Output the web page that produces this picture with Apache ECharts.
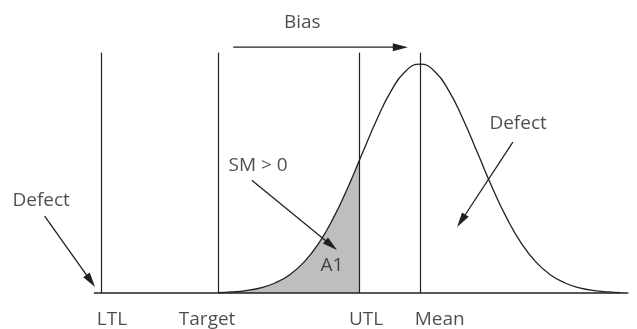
<!DOCTYPE html>
<html>
<head>
<meta charset="utf-8">
<script src="https://cdn.jsdelivr.net/npm/echarts@6/dist/echarts.min.js"></script>
<style>
  html, body { margin: 0; padding: 0; background: #fff; }
  #chart { width: 637px; height: 329px; }
</style>
</head>
<body>
<div id="chart"></div>
<script>
  // x in sigma units (mean = 0), y in % of peak height
  var curveX = [-3.48, -3.25, -3, -2.75, -2.5, -2.25, -2, -1.75, -1.5, -1.25, -1, -0.75, -0.5, -0.25, 0,
                0.25, 0.5, 0.75, 1, 1.25, 1.5, 1.75, 2, 2.25, 2.5, 2.75, 3, 3.25, 3.45];
  var curveY = [0.2, 0.5, 1.1, 2.3, 4.4, 7.9, 13.5, 21.6, 32.5, 45.8, 60.7, 75.5, 88.2, 96.9, 100,
                96.9, 88.2, 75.5, 60.7, 45.8, 32.5, 21.6, 13.5, 7.9, 4.4, 2.3, 1.1, 0.5, 0.2];

  var limitNames = ['LTL', 'Target', 'UTL', 'Mean'];
  var limitX = [-5.5, -3.48, -1.05, 0];
  var limitTop = 105;
  var labelX = [-5.31, -3.67, -0.93, 0.34];
  var labelY = -11.8;
  var utlHeight = 57.6;
  var baseRange = [-5.62, 3.59];

  var noteText = ['Bias', 'Defect', 'SM > 0', 'A1', 'Defect'];
  var noteX = [-2.03, -6.53, -2.79, -1.52, 1.69];
  var noteY = [118.3, 40.6, 55.5, 11.8, 73.8];

  // arrows: [x1, y1, x2, y2], head at the second point
  var arrows = [
    [-3.22, 107.4, -0.21, 107.4],
    [-6.47, 33.6, -5.60, 2.6],
    [-2.90, 49.3, -1.43, 18.8],
    [1.60, 65.9, 0.64, 28.8]
  ];

  var ink = '#231f20';

  var curveData = curveX.map(function (x, i) { return [x, curveY[i]]; });
  var shadeData = curveData.filter(function (p) { return p[0] < limitX[2]; });
  shadeData.push([limitX[2], utlHeight]);

  var limitLines = limitX.map(function (x) {
    return [{ coord: [x, 0] }, { coord: [x, limitTop] }];
  });
  limitLines.push([{ coord: [baseRange[0], 0] }, { coord: [baseRange[1], 0], lineStyle: { width: 1.6 } }]);

  var labels = limitNames.map(function (n, i) { return { name: n, value: [labelX[i], labelY] }; })
    .concat(noteText.map(function (n, i) { return { name: n, value: [noteX[i], noteY[i]] }; }));

  function renderArrow(params, api) {
    var a = api.coord([api.value(0), api.value(1)]);
    var b = api.coord([api.value(2), api.value(3)]);
    var dx = b[0] - a[0], dy = b[1] - a[1];
    var len = Math.sqrt(dx * dx + dy * dy);
    var ux = dx / len, uy = dy / len;
    var hl = 15, hw = 4;
    var bx = b[0] - ux * hl, by = b[1] - uy * hl;
    return {
      type: 'group',
      children: [
        { type: 'line', shape: { x1: a[0], y1: a[1], x2: bx + ux * 2, y2: by + uy * 2 },
          style: { stroke: ink, lineWidth: 1.3 } },
        { type: 'polygon', shape: { points: [b, [bx - uy * hw, by + ux * hw], [bx + uy * hw, by - ux * hw]] },
          style: { fill: ink } }
      ]
    };
  }

  var chart = echarts.init(document.getElementById('chart'));
  chart.setOption({
    animation: false,
    backgroundColor: '#fff',
    grid: { left: 0, right: 0, top: 0, bottom: 0 },
    xAxis: { type: 'value', min: -7.24, max: 3.74, show: false },
    yAxis: { type: 'value', min: -15.7, max: 128, show: false },
    series: [
      {
        type: 'line',
        data: shadeData,
        smooth: 0.5,
        symbol: 'none',
        lineStyle: { width: 0 },
        areaStyle: { color: '#bcbec0', opacity: 1 },
        z: 1
      },
      {
        type: 'line',
        data: curveData,
        smooth: 0.5,
        symbol: 'none',
        lineStyle: { color: ink, width: 1.3 },
        z: 3,
        markLine: {
          silent: true,
          symbol: 'none',
          label: { show: false },
          lineStyle: { color: ink, width: 1.2, type: 'solid' },
          data: limitLines
        }
      },
      {
        type: 'custom',
        renderItem: renderArrow,
        data: arrows,
        encode: { x: [0, 2], y: [1, 3] },
        z: 4
      },
      {
        type: 'scatter',
        data: labels,
        symbolSize: 0,
        silent: true,
        label: {
          show: true,
          position: 'inside',
          formatter: '{b}',
          fontFamily: 'Open Sans',
          fontSize: 19,
          color: ink
        },
        z: 5
      }
    ]
  });
</script>
</body>
</html>
